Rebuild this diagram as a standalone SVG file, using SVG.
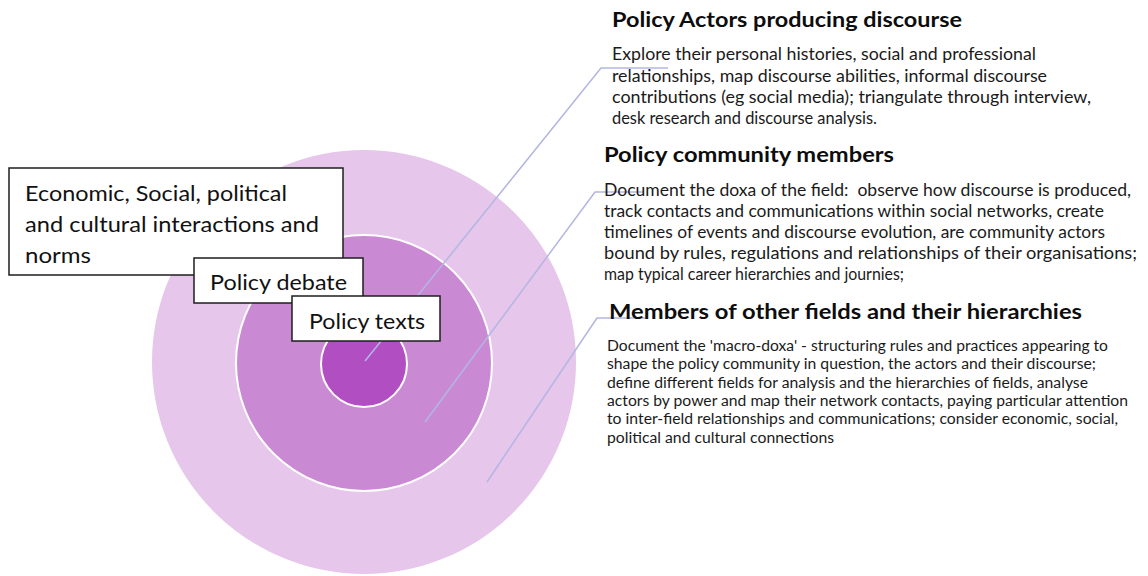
<svg xmlns="http://www.w3.org/2000/svg" width="1148" height="576" viewBox="0 0 1148 576">
  <style>
    .ring { stroke: #ffffff; stroke-width: 2; }
    .lead { fill: none; stroke: #b3b6e2; stroke-width: 1.5; stroke-linejoin: round; }
    .box { fill: #ffffff; stroke: #1e1e1e; stroke-width: 1.5; }
    .boxtext { font-family: Lato, "Open Sans", "Liberation Sans", sans-serif; font-size: 22px; fill: #111111; }
    .head { font-family: Lato, "Open Sans", "Liberation Sans", sans-serif; font-weight: 700; font-size: 21.5px; fill: #0d0d0d; }
    .body1 { font-family: Lato, "Open Sans", "Liberation Sans", sans-serif; font-size: 16.5px; fill: #1a1a1a; }
    .body2 { font-family: Lato, "Open Sans", "Liberation Sans", sans-serif; font-size: 17px; fill: #1a1a1a; }
    .body3 { font-family: Lato, "Open Sans", "Liberation Sans", sans-serif; font-size: 14.5px; fill: #1a1a1a; }
  </style>

  <rect width="1148" height="576" fill="#ffffff"/>

  <!-- concentric target -->
  <g id="ring-outer"><circle class="ring" cx="364" cy="362" r="213" fill="#e6c6eb"/></g>
  <g id="ring-middle"><circle class="ring" cx="364" cy="363" r="128" fill="#ca89d3"/></g>
  <g id="ring-inner"><circle class="ring" cx="364" cy="364" r="43" fill="#b14ec1"/></g>

  <!-- leader lines from each ring to its description -->
  <g id="connectors">
    <polyline class="lead" points="365,361 601,68 668,68"/>
    <polyline class="lead" points="425,422 595,192 643,192"/>
    <polyline class="lead" points="487,482 597,318 645,318"/>
  </g>

  <!-- ring labels -->
  <g id="label-outer">
    <rect class="box" x="9" y="168" width="334" height="107"/>
    <text class="boxtext" x="25" y="201" textLength="262" lengthAdjust="spacingAndGlyphs">Economic, Social, political</text>
    <text class="boxtext" x="25" y="232" textLength="294" lengthAdjust="spacingAndGlyphs">and cultural interactions and</text>
    <text class="boxtext" x="25" y="263" textLength="66" lengthAdjust="spacingAndGlyphs">norms</text>
  </g>
  <g id="label-middle">
    <rect class="box" x="194" y="258" width="169" height="45"/>
    <text class="boxtext" x="210" y="290" textLength="137" lengthAdjust="spacingAndGlyphs">Policy debate</text>
  </g>
  <g id="label-inner">
    <rect class="box" x="292" y="296" width="148" height="45"/>
    <text class="boxtext" x="309" y="329" textLength="116" lengthAdjust="spacingAndGlyphs">Policy texts</text>
  </g>

  <!-- descriptions -->
  <g id="desc-actors">
    <text class="head" x="612" y="27" textLength="350" lengthAdjust="spacingAndGlyphs">Policy Actors producing discourse</text>
    <text class="body1" x="612" y="60" textLength="424" lengthAdjust="spacingAndGlyphs">Explore their personal histories, social and professional</text>
    <text class="body1" x="612" y="81.5" textLength="435" lengthAdjust="spacingAndGlyphs">relationships, map discourse abilities, informal discourse</text>
    <text class="body1" x="612" y="103" textLength="479" lengthAdjust="spacingAndGlyphs">contributions (eg social media); triangulate through interview,</text>
    <text class="body1" x="612" y="124" textLength="265" lengthAdjust="spacingAndGlyphs">desk research and discourse analysis.</text>
  </g>
  <g id="desc-community">
    <text class="head" x="604" y="162" textLength="290" lengthAdjust="spacingAndGlyphs">Policy community members</text>
    <text class="body2" x="604" y="196" textLength="527" lengthAdjust="spacingAndGlyphs" xml:space="preserve">Document the doxa of the field:  observe how discourse is produced,</text>
    <text class="body2" x="604" y="217" textLength="500" lengthAdjust="spacingAndGlyphs">track contacts and communications within social networks, create</text>
    <text class="body2" x="604" y="238" textLength="501" lengthAdjust="spacingAndGlyphs">timelines of events and discourse evolution, are community actors</text>
    <text class="body2" x="604" y="259" textLength="533" lengthAdjust="spacingAndGlyphs">bound by rules, regulations and relationships of their organisations;</text>
    <text class="body2" x="604" y="280" textLength="300" lengthAdjust="spacingAndGlyphs">map typical career hierarchies and journies;</text>
  </g>
  <g id="desc-fields">
    <text class="head" x="609" y="319" textLength="473" lengthAdjust="spacingAndGlyphs">Members of other fields and their hierarchies</text>
    <text class="body3" x="607" y="351" textLength="501" lengthAdjust="spacingAndGlyphs">Document the 'macro-doxa' - structuring rules and practices appearing to</text>
    <text class="body3" x="607" y="369.3" textLength="489" lengthAdjust="spacingAndGlyphs">shape the policy community in question, the actors and their discourse;</text>
    <text class="body3" x="607" y="387.6" textLength="481" lengthAdjust="spacingAndGlyphs">define different fields for analysis and the hierarchies of fields, analyse</text>
    <text class="body3" x="607" y="405.9" textLength="521" lengthAdjust="spacingAndGlyphs">actors by power and map their network contacts, paying particular attention</text>
    <text class="body3" x="607" y="424.2" textLength="511" lengthAdjust="spacingAndGlyphs">to inter-field relationships and communications; consider economic, social,</text>
    <text class="body3" x="607" y="442.5" textLength="227" lengthAdjust="spacingAndGlyphs">political and cultural connections</text>
  </g>
</svg>
